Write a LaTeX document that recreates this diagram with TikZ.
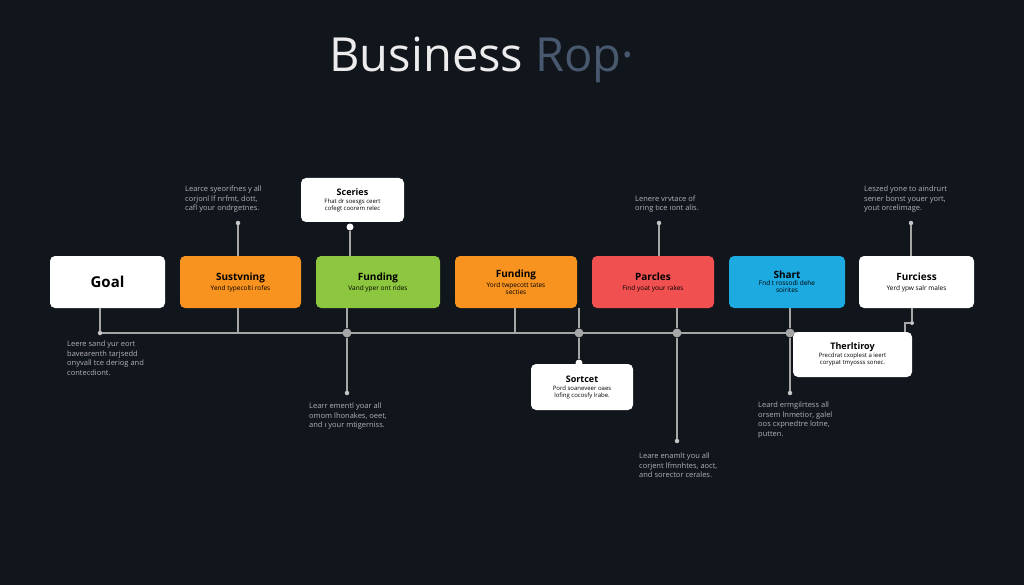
\documentclass[tikz,border=0pt]{standalone}
\usepackage{fontspec}
\setmainfont{Open Sans}
\begin{document}
\begin{tikzpicture}[x=1pt,y=-1pt,
 box/.style={rounded corners=5pt,draw=none,minimum height=52pt,align=center,inner sep=2pt},
 note/.style={font=\fontsize{7.5}{9.5}\selectfont,text=gray!60!white,align=left,anchor=north west,inner sep=0},
 ln/.style={draw=gray!70,line width=1.2pt},
 dot/.style={circle,fill=gray!45!white,inner sep=0,minimum size=4.5pt},
 big/.style={circle,fill=gray!70!white,inner sep=0,minimum size=9pt},
 wbox/.style={fill=white,rounded corners=5pt,align=center,inner sep=2pt}]
\fill[fill={rgb,255:red,17;green,21;blue,28}] (0,0) rectangle (1024,585);
\useasboundingbox (0,0) rectangle (1024,585);
\definecolor{org}{RGB}{247,147,30}\definecolor{grn}{RGB}{141,198,63}
\definecolor{rd}{RGB}{240,80,80}\definecolor{cy}{RGB}{28,170,225}
\definecolor{rop}{RGB}{72,88,110}
\node[font=\fontsize{47}{50}\selectfont,anchor=west] (title) at (326,60) {\textcolor{gray!15}{Business} \textcolor{rop}{Rop·}};
\coordinate (L0) at (100,333); \coordinate (L1) at (800,333);
\draw[ln] (L0) -- (L1);
\node[box,fill=white,minimum width=115pt,font=\bfseries\fontsize{15}{16}\selectfont] (goal) at (107.5,282) {Goal};
\node[box,fill=org,minimum width=121pt,font=\fontsize{6.5}{8}\selectfont] (sus) at (240.5,282) {\textbf{\fontsize{10}{12}\selectfont Sustvning}\\[2pt] Yend typecolti rofes};
\node[box,fill=grn,minimum width=124pt,font=\fontsize{6.5}{8}\selectfont] (fun1) at (378,282) {\textbf{\fontsize{10}{12}\selectfont Funding}\\[2pt] Vand yper ont rides};
\node[box,fill=org,minimum width=122pt,font=\fontsize{6.5}{7}\selectfont] (fun2) at (516,282) {\textbf{\fontsize{10}{12}\selectfont Funding}\\[2pt] Yord twpecott tates\\ secties};
\node[box,fill=rd,minimum width=122pt,font=\fontsize{6.5}{8}\selectfont] (par) at (653,282) {\textbf{\fontsize{10}{12}\selectfont Parcles}\\[2pt] Find yoat your rakes};
\node[box,fill=cy,minimum width=116pt,font=\fontsize{6.5}{7}\selectfont] (sha) at (787,282) {\textbf{\fontsize{10}{12}\selectfont Shart}\\ Fnd t rossodi dehe\\ soirites};
\node[box,fill=white,minimum width=115pt,font=\fontsize{6.5}{8}\selectfont] (fur) at (916.5,282) {\textbf{\fontsize{10}{12}\selectfont Furciess}\\[2pt] Yerd ypw salr males};
\node[wbox,minimum width=103pt,minimum height=44pt,font=\fontsize{6}{7}\selectfont] (ser) at (352.5,200) {\textbf{\fontsize{9}{11}\selectfont Sceries}\\[1pt] Fhat dr soesgs ceert\\ cofegt coorem relec};
\node[wbox,minimum width=102pt,minimum height=46pt,font=\fontsize{6}{7}\selectfont] (sor) at (582,387) {\textbf{\fontsize{9}{11}\selectfont Sortcet}\\[1pt] Pord soaneveer oaes\\ lofing cocosfy lrabe.};
\node[wbox,minimum width=119pt,minimum height=45pt,font=\fontsize{6}{7}\selectfont] (the) at (852.5,354.5) {\textbf{\fontsize{9}{11}\selectfont Therltiroy}\\[1pt] Precdrat cxoplest a ieert\\ corypat tmyosss sonec.};
\node[dot] (d0) at (100,333) {};
\draw[ln] (goal.south -| d0) -- (d0);
\node[note] (n0) at (67,341) {Leere sand yur eort\\ bavearenth tarjsedd\\ onyvall tce deriog and\\ contecdiont.};
\node[dot] (d1) at (238,223) {};
\draw[ln] (sus.north -| d1) -- (d1);
\draw[ln] (sus.south -| d1) -- (d1 |- L0);
\node[note,anchor=south west] (n1) at (185,213) {Learce syeorifnes y all\\ corjonl lf nrfmt, dott,\\ cafl your ondrgetnes.};
\node[dot,fill=white,minimum size=7pt] (c1) at (350,227) {};
\draw[ln] (fun1.north -| c1) -- (c1);
\node[big] (b1) at (347,333) {};
\draw[ln] (fun1.south -| b1) -- (b1);
\node[dot] (d2) at (347,393) {};
\draw[ln] (b1) -- (d2);
\node[note] (n2) at (309,403) {Learr ementl yoar all\\ omom lhonakes, oeet,\\ and ı your mtigerniss.};
\coordinate (t2) at (515,333);
\draw[ln] (fun2.south -| t2) -- (t2);
\node[big] (b2) at (579,333) {};
\draw[ln] (fun2.south -| b2) -- (b2);
\node[dot,fill=white,minimum size=7pt] (c2) at (579,363) {};
\draw[ln] (b2) -- (c2);
\node[dot] (d3) at (659,223) {};
\draw[ln] (par.north -| d3) -- (d3);
\node[note,anchor=south west] (n3) at (635,213) {Lenere vrvtace of\\ oring tıce ıont alis.};
\node[big] (b3) at (677,333) {};
\draw[ln] (par.south -| b3) -- (b3);
\node[dot] (d4) at (677,441) {};
\draw[ln] (b3) -- (d4);
\node[note] (n4) at (639,453) {Leare enamlt you all\\ corjent lfmnhtes, aoct,\\ and sorector cerales.};
\node[big] (b4) at (790,333) {};
\draw[ln] (sha.south -| b4) -- (b4);
\node[dot] (d5) at (790,393) {};
\draw[ln] (b4) -- (d5);
\node[note] (n5) at (758,402) {Leard ermgilrtess all\\ orsem lnmetior, galel\\ oos cxpnedtre lotne,\\ putten.};
\node[dot] (d6) at (911,223) {};
\draw[ln] (fur.north -| d6) -- (d6);
\node[note,anchor=south west] (n6) at (864,213) {Leszed yone to aindrurt\\ sener bonst youer yort,\\ yout orcelimage.};
\node[dot,minimum size=4pt] (d7) at (912,323) {};
\coordinate (e7) at (905,323);
\draw[ln] (fur.south -| d7) -- (d7) -- (e7) -- (the.north -| e7);
\end{tikzpicture}
\end{document}
